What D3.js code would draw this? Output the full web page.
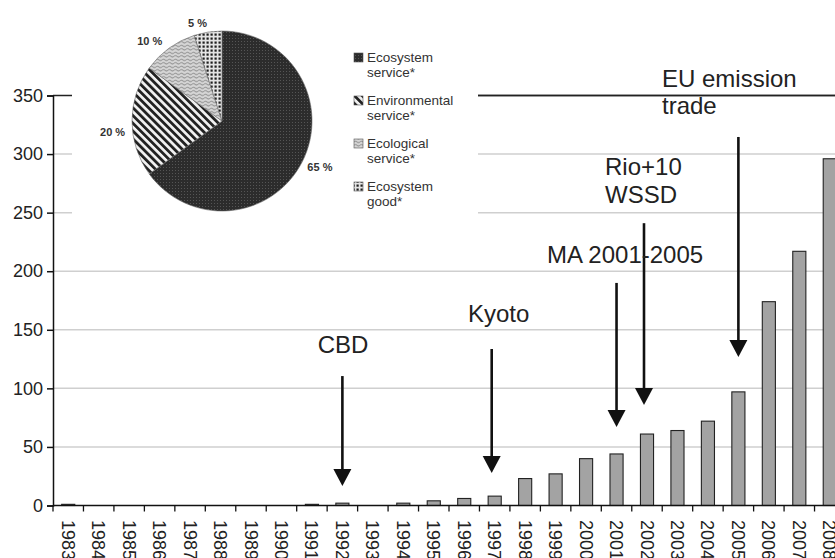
<!DOCTYPE html>
<html>
<head>
<meta charset="utf-8">
<script src="https://cdn.jsdelivr.net/npm/d3@7"></script>
<style>
  html, body { margin: 0; padding: 0; background: #fff; }
  svg { display: block; font-family: "Liberation Sans", Arial, sans-serif; }
</style>
</head>
<body>
<svg id="chart" width="835" height="558"></svg>
<script>
// Yearly counts (bars)
const years = ["1983","1984","1985","1986","1987","1988","1989","1990","1991","1992","1993","1994","1995",
               "1996","1997","1998","1999","2000","2001","2002","2003","2004","2005","2006","2007","2008"];
const counts = [1,0,0,0,0,0,0,0,1,2,0,2,4,6,8,23,27,40,44,61,64,72,97,174,217,296];
const yTicks = [0,50,100,150,200,250,300,350];

// Term shares (inset pie)
const terms = ["Ecosystem service*","Environmental service*","Ecological service*","Ecosystem good*"];
const termShares = [65,20,10,5];

// Events marked with arrows: year, arrow start / tip in count units
const events = [
  { year: "1992", from: 110.5, to: 16.6 },
  { year: "1997", from: 133.6, to: 27.7, shift: -3 },
  { year: "2001", from: 190,   to: 67 },
  { year: "2002", from: 241,   to: 85.8, shift: -3 },
  { year: "2005", from: 314.6, to: 126.8 }
];

const svg = d3.select("#chart");
const plotLeft = 53, plotRight = 845, plotBottom = 505.5, plotTop = 95.5;

const x = d3.scaleBand().domain(years).range([plotLeft, plotRight])
  .paddingInner(0.57).paddingOuter(0.285);
const y = d3.scaleLinear().domain([0, 350]).range([plotBottom, plotTop]);

// ---------- patterns ----------
const defs = svg.append("defs");
const pDark = defs.append("pattern").attr("id", "pDark").attr("patternUnits", "userSpaceOnUse")
  .attr("width", 3).attr("height", 3);
pDark.append("rect").attr("width", 3).attr("height", 3).attr("fill", "#2c2c2c");
pDark.append("rect").attr("x", 1).attr("y", 1).attr("width", 1).attr("height", 1).attr("fill", "#555");

const pHatch = defs.append("pattern").attr("id", "pHatch").attr("patternUnits", "userSpaceOnUse")
  .attr("width", 5.5).attr("height", 5.5).attr("patternTransform", "rotate(-45)");
pHatch.append("rect").attr("width", 5.5).attr("height", 5.5).attr("fill", "#f2f2f2");
pHatch.append("rect").attr("width", 2.8).attr("height", 5.5).attr("fill", "#222");

const pWave = defs.append("pattern").attr("id", "pWave").attr("patternUnits", "userSpaceOnUse")
  .attr("width", 6).attr("height", 3.5);
pWave.append("rect").attr("width", 6).attr("height", 3.5).attr("fill", "#d6d6d6");
pWave.append("path").attr("d", "M0 1.8 Q1.5 0.4 3 1.8 T6 1.8").attr("fill", "none")
  .attr("stroke", "#8a8a8a").attr("stroke-width", 0.9);

const pCheck = defs.append("pattern").attr("id", "pCheck").attr("patternUnits", "userSpaceOnUse")
  .attr("width", 4).attr("height", 4);
pCheck.append("rect").attr("width", 4).attr("height", 4).attr("fill", "#e4e4e4");
pCheck.append("rect").attr("x", 0.5).attr("y", 0.5).attr("width", 2.2).attr("height", 2.2).attr("fill", "#1e1e1e");

const fills = ["url(#pDark)", "url(#pHatch)", "url(#pWave)", "url(#pCheck)"];

// ---------- gridlines ----------
svg.append("g").selectAll("line").data(yTicks.filter(t => t > 0 && t < 350)).join("line")
  .attr("x1", plotLeft).attr("x2", 835)
  .attr("y1", d => y(d)).attr("y2", d => y(d))
  .attr("stroke", "#cfcfcf").attr("stroke-width", 1.5);

// top border at 350
svg.append("line").attr("x1", plotLeft).attr("x2", 835).attr("y1", y(350)).attr("y2", y(350))
  .attr("stroke", "#222").attr("stroke-width", 1.5);

// ---------- bars ----------
const data = years.map((yr, i) => ({ year: yr, value: counts[i] }));
svg.append("g").selectAll("rect").data(data.filter(d => d.value > 0)).join("rect")
  .attr("x", d => x(d.year)).attr("width", x.bandwidth())
  .attr("y", d => y(d.value)).attr("height", d => y(0) - y(d.value))
  .attr("fill", "#a3a3a3").attr("stroke", "#222").attr("stroke-width", 1.1);

// ---------- y axis ----------
const yAxis = svg.append("g").attr("transform", `translate(${plotLeft},0)`)
  .call(d3.axisLeft(y).tickValues(yTicks).tickSize(6).tickPadding(4));
yAxis.select(".domain").attr("stroke", "#111").attr("stroke-width", 1.5);
yAxis.selectAll(".tick line").attr("stroke", "#111").attr("stroke-width", 1.5);
yAxis.selectAll(".tick text").attr("font-size", 18).attr("fill", "#222")
  .attr("font-family", "Liberation Sans, Arial, sans-serif");

// ---------- x axis ----------
const step = x.step();
const edge = d => x(d) - (step - x.bandwidth()) / 2;
const xg = svg.append("g");
xg.append("line").attr("x1", plotLeft).attr("x2", 835).attr("y1", y(0)).attr("y2", y(0))
  .attr("stroke", "#111").attr("stroke-width", 1.5);
xg.selectAll("line.tk").data(years).join("line").attr("class", "tk")
  .attr("x1", d => edge(d)).attr("x2", d => edge(d))
  .attr("y1", y(0)).attr("y2", y(0) + 6)
  .attr("stroke", "#111").attr("stroke-width", 1.3);
xg.selectAll("text").data(years).join("text")
  .attr("transform", d => `translate(${x(d) + x.bandwidth() / 2},520) rotate(90)`)
  .attr("dy", "0.36em").attr("text-anchor", "start")
  .attr("font-size", 18).attr("fill", "#222").text(d => d);

// ---------- inset panel ----------
svg.append("rect").attr("x", 72).attr("y", 0).attr("width", 406).attr("height", 218).attr("fill", "#fff");

const cx = 222, cy = 121, r = 90;
const pie = d3.pie().sort(null)(termShares);
const arc = d3.arc().innerRadius(0).outerRadius(r);
// percentage labels sit just outside the rim (angle in degrees clockwise from 12 o'clock, radius)
const labelSpots = [[115, 108], [264, 110], [318, 108], [346, 101]];
const pg = svg.append("g").attr("transform", `translate(${cx},${cy})`);
pg.selectAll("path").data(pie).join("path")
  .attr("d", arc).attr("fill", (d, i) => fills[i])
  .attr("stroke", "#666").attr("stroke-width", 0.6);
pg.selectAll("text").data(pie).join("text")
  .attr("transform", (d, i) => {
    const a = labelSpots[i][0] * Math.PI / 180, rr = labelSpots[i][1];
    return `translate(${rr * Math.sin(a)},${-rr * Math.cos(a)})`;
  })
  .attr("text-anchor", "middle").attr("dy", "0.35em")
  .attr("font-size", 11).attr("font-weight", "bold").attr("fill", "#333")
  .text(d => d.data + " %");

// legend
const lg = svg.append("g");
terms.forEach((t, i) => {
  const base = 62 + i * 43;
  lg.append("rect").attr("x", 354).attr("y", base - 9).attr("width", 9).attr("height", 9)
    .attr("fill", fills[i]).attr("stroke", "#555").attr("stroke-width", 0.6);
  const parts = t.split(" ");
  lg.append("text").attr("x", 367).attr("y", base).attr("font-size", 13.5).attr("fill", "#333").text(parts[0]);
  lg.append("text").attr("x", 367).attr("y", base + 15).attr("font-size", 13.5).attr("fill", "#333").text(parts[1]);
});

// EU line across the top of the plot to the right of the inset
svg.append("line").attr("x1", 478).attr("x2", 835).attr("y1", y(350)).attr("y2", y(350))
  .attr("stroke", "#222").attr("stroke-width", 1.5);

// ---------- event arrows ----------
const ag = svg.append("g");
events.forEach(e => {
  const ax = x(e.year) + x.bandwidth() / 2 + (e.shift || 0);
  const y1 = y(e.from), tip = y(e.to);
  ag.append("line").attr("x1", ax).attr("x2", ax).attr("y1", y1).attr("y2", tip - 12)
    .attr("stroke", "#111").attr("stroke-width", 2.6);
  ag.append("path").attr("d", `M${ax - 9},${tip - 17} L${ax + 9},${tip - 17} L${ax},${tip} Z`)
    .attr("fill", "#111");
});

// ---------- event labels ----------
const tg = svg.append("g").attr("font-size", 24).attr("fill", "#222");
tg.append("text").attr("x", 343).attr("y", 352.7).attr("text-anchor", "middle").text("CBD");
tg.append("text").attr("x", 468).attr("y", 322).text("Kyoto");
tg.append("text").attr("x", 547).attr("y", 263).text("MA 2001-2005");
tg.append("text").attr("x", 605).attr("y", 175).text("Rio+10");
tg.append("text").attr("x", 605).attr("y", 203).text("WSSD");
tg.append("text").attr("x", 662).attr("y", 87).text("EU emission");
tg.append("text").attr("x", 662).attr("y", 114).text("trade");
</script>
</body>
</html>
